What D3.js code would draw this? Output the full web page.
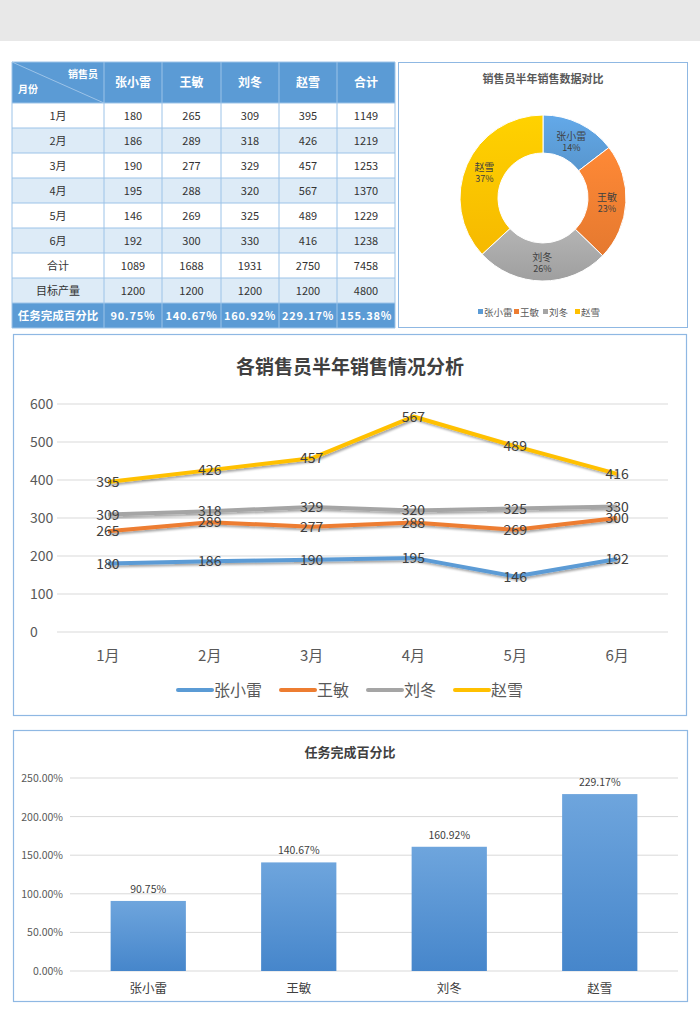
<!DOCTYPE html>
<html><head><meta charset="utf-8">
<script src="https://cdn.jsdelivr.net/npm/d3@7"></script>
<style>
body{margin:0;background:#fff;}
svg{display:block;font-family:"Noto Sans CJK SC","Microsoft YaHei",sans-serif;}
</style></head>
<body>
<svg id="c" width="700" height="1030"></svg>
<script>
const months = ['1月','2月','3月','4月','5月','6月'];
const people = ['张小雷','王敏','刘冬','赵雪'];
const zhang = [180,186,190,195,146,192];
const wang  = [265,289,277,288,269,300];
const liu   = [309,318,329,320,325,330];
const zhao  = [395,426,457,567,489,416];
const rowTotals = [1149,1219,1253,1370,1229,1238];
const colTotals = [1089,1688,1931,2750,7458];
const targets = [1200,1200,1200,1200,4800];
const pctLabels = ['90.75%','140.67%','160.92%','229.17%','155.38%'];
const pctValues = [90.75,140.67,160.92,229.17];
const donutPct = ['14%','23%','26%','37%'];
const colors = ['#5b9bd5','#ed7d31','#a5a5a5','#ffc000'];
const lineTicks = [0,100,200,300,400,500,600];
const barTicks = [0,50,100,150,200,250];

const svg = d3.select('#c');
const defs = svg.append('defs');

// top grey band
svg.append('rect').attr('x',0).attr('y',0).attr('width',700).attr('height',41).attr('fill','#e8e8e8');

// ---------- TABLE ----------
const colX = [12,104,162,221,279,337,395];
const headH = 41, rowH = 25, tTop = 62;
const series = [zhang,wang,liu,zhao];
const rows = months.map((m,i)=>[m, ...series.map(s=>s[i]), rowTotals[i]]);
rows.push(['合计', ...colTotals]);
rows.push(['目标产量', ...targets]);
const tbl = svg.append('g');
tbl.append('rect').attr('x',colX[0]).attr('y',tTop).attr('width',colX[6]-colX[0]).attr('height',headH).attr('fill','#5b9bd5');
['张小雷','王敏','刘冬','赵雪','合计'].forEach((h,i)=>{
  tbl.append('text').attr('x',(colX[i+1]+colX[i+2])/2).attr('y',tTop+headH/2+4.5)
    .attr('text-anchor','middle').attr('fill','#fff').attr('font-size',12).attr('font-weight','bold').text(h);
});
tbl.append('line').attr('x1',colX[0]).attr('y1',tTop).attr('x2',colX[1]).attr('y2',tTop+headH).attr('stroke','#9cc3e8').attr('stroke-width',1);
tbl.append('text').attr('x',98).attr('y',tTop+16).attr('text-anchor','end').attr('fill','#fff').attr('font-size',10).attr('font-weight','bold').text('销售员');
tbl.append('text').attr('x',18).attr('y',tTop+31).attr('fill','#fff').attr('font-size',10).attr('font-weight','bold').text('月份');
rows.forEach((r,ri)=>{
  const y = tTop+headH+ri*rowH;
  tbl.append('rect').attr('x',colX[0]).attr('y',y).attr('width',colX[6]-colX[0]).attr('height',rowH)
    .attr('fill', ri%2===1 ? '#ddebf7' : '#ffffff');
  r.forEach((v,ci)=>{
    tbl.append('text').attr('x',(colX[ci]+colX[ci+1])/2).attr('y',y+rowH/2+4)
      .attr('text-anchor','middle').attr('fill','#333').attr('font-size',11).text(v);
  });
});
const lastY = tTop+headH+rows.length*rowH;
tbl.append('rect').attr('x',colX[0]).attr('y',lastY).attr('width',colX[6]-colX[0]).attr('height',rowH).attr('fill','#5b9bd5');
tbl.append('text').attr('x',(colX[0]+colX[1])/2).attr('y',lastY+rowH/2+4.5).attr('text-anchor','middle')
  .attr('fill','#fff').attr('font-size',11.5).attr('font-weight','bold').text('任务完成百分比');
pctLabels.forEach((p,i)=>{
  tbl.append('text').attr('x',(colX[i+1]+colX[i+2])/2).attr('y',lastY+rowH/2+4.5).attr('text-anchor','middle')
    .attr('fill','#fff').attr('font-size',11).attr('font-weight','bold').attr('letter-spacing',0.8).text(p);
});
const tBottom = lastY+rowH;
colX.forEach(x=>tbl.append('line').attr('x1',x).attr('x2',x).attr('y1',tTop).attr('y2',tBottom).attr('stroke','#9cc3e8').attr('stroke-width',1));
for(let i=0;i<=rows.length+1;i++){
  const y = i===0?tTop:tTop+headH+(i-1)*rowH;
  tbl.append('line').attr('x1',colX[0]).attr('x2',colX[6]).attr('y1',y).attr('y2',y).attr('stroke','#9cc3e8').attr('stroke-width',1);
}
tbl.append('line').attr('x1',colX[0]).attr('x2',colX[6]).attr('y1',tBottom).attr('y2',tBottom).attr('stroke','#9cc3e8');

// ---------- DONUT ----------
svg.append('rect').attr('x',398.5).attr('y',62.5).attr('width',289).attr('height',265).attr('fill','#fff').attr('stroke','#8fb8e3').attr('stroke-width',1);
svg.append('text').attr('x',543).attr('y',83).attr('text-anchor','middle').attr('fill','#595959').attr('font-size',11).attr('font-weight','bold').text('销售员半年销售数据对比');
const pieData = d3.pie().sort(null)(people.map((p,i)=>colTotals[i]));
const arc = d3.arc().innerRadius(45).outerRadius(83);
const dg = svg.append('g').attr('transform','translate(543,198)');
people.forEach((p,i)=>{
  const g = defs.append('linearGradient').attr('id','pg'+i).attr('x1',0).attr('y1',0).attr('x2',0).attr('y2',1);
  g.append('stop').attr('offset','0%').attr('stop-color',d3.color(colors[i]).brighter(0.25));
  g.append('stop').attr('offset','100%').attr('stop-color',d3.color(colors[i]).darker(0.1));
});
dg.selectAll('path').data(pieData).enter().append('path').attr('d',arc)
  .attr('fill',(d,i)=>'url(#pg'+i+')').attr('stroke','#fff').attr('stroke-width',1);
pieData.forEach((d,i)=>{
  const [cx,cy] = arc.centroid(d);
  dg.append('text').attr('x',cx).attr('y',cy-1).attr('text-anchor','middle').attr('fill','#404040').attr('font-size',10).text(people[i]);
  dg.append('text').attr('x',cx).attr('y',cy+10).attr('text-anchor','middle').attr('fill','#404040').attr('font-size',9).text(donutPct[i]);
});
const dlx = [478,514,543,575];
people.forEach((p,i)=>{
  svg.append('rect').attr('x',dlx[i]).attr('y',309).attr('width',5).attr('height',5).attr('fill',colors[i]);
  svg.append('text').attr('x',dlx[i]+6).attr('y',316).attr('fill','#595959').attr('font-size',9.5).text(p);
});

// ---------- LINE CHART ----------
svg.append('rect').attr('x',13.5).attr('y',334.5).attr('width',673).attr('height',381).attr('fill','#fff').attr('stroke','#8fb8e3').attr('stroke-width',1.2);
svg.append('text').attr('x',350).attr('y',374).attr('text-anchor','middle').attr('fill','#404040').attr('font-size',19).attr('font-weight','bold').text('各销售员半年销售情况分析');
const ly = d3.scaleLinear().domain([0,600]).range([632,404]);
const lx = d3.scalePoint().domain(months).range([57,668]).padding(0.5);
const lg = svg.append('g');
lineTicks.forEach(t=>{
  lg.append('line').attr('x1',57).attr('x2',668).attr('y1',ly(t)).attr('y2',ly(t)).attr('stroke','#d9d9d9').attr('stroke-width',1);
  lg.append('text').attr('x',30).attr('y',ly(t)+5).attr('fill','#595959').attr('font-size',14).text(t);
});
months.forEach(m=>lg.append('text').attr('x',lx(m)).attr('y',661).attr('text-anchor','middle').attr('fill','#595959').attr('font-size',15).text(m));
const shadow = defs.append('filter').attr('id','sh').attr('x','-10%').attr('y','-50%').attr('width','120%').attr('height','200%');
shadow.append('feDropShadow').attr('dx',1.5).attr('dy',2).attr('stdDeviation',1.2).attr('flood-color','#000').attr('flood-opacity',0.35);
const lineGen = d3.line().x((d,i)=>lx(months[i])).y(d=>ly(d));
series.forEach((s,i)=>{
  lg.append('path').attr('d',lineGen(s)).attr('fill','none').attr('stroke',colors[i]).attr('stroke-width',4)
    .attr('stroke-linejoin','round').attr('filter','url(#sh)');
});
series.forEach((s,i)=>{
  s.forEach((v,j)=>{
    lg.append('text').attr('x',lx(months[j])).attr('y',ly(v)+5).attr('text-anchor','middle').attr('fill','#404040').attr('font-size',14).text(v);
  });
});
const llx = [178,281,368,455];
people.forEach((p,i)=>{
  lg.append('line').attr('x1',llx[i]).attr('x2',llx[i]+34).attr('y1',690).attr('y2',690).attr('stroke',colors[i]).attr('stroke-width',4).attr('stroke-linecap','round');
  lg.append('text').attr('x',llx[i]+36).attr('y',696).attr('fill','#595959').attr('font-size',16).text(p);
});

// ---------- BAR CHART ----------
svg.append('rect').attr('x',13.5).attr('y',730.5).attr('width',674).attr('height',271).attr('fill','#fff').attr('stroke','#8fb8e3').attr('stroke-width',1.2);
svg.append('text').attr('x',350).attr('y',757).attr('text-anchor','middle').attr('fill','#404040').attr('font-size',13).attr('font-weight','bold').text('任务完成百分比');
const by = d3.scaleLinear().domain([0,250]).range([971,778]);
const bx = d3.scaleBand().domain(people).range([73,675]).paddingInner(0.5).paddingOuter(0.25);
const bg = svg.append('g');
barTicks.forEach(t=>{
  bg.append('line').attr('x1',70).attr('x2',678).attr('y1',by(t)).attr('y2',by(t)).attr('stroke','#d9d9d9').attr('stroke-width',1);
  bg.append('text').attr('x',63).attr('y',by(t)+4).attr('text-anchor','end').attr('fill','#595959').attr('font-size',10.5).text(d3.format('.2f')(t)+'%');
});
const bgr = defs.append('linearGradient').attr('id','bgr').attr('x1',0).attr('y1',0).attr('x2',0).attr('y2',1);
bgr.append('stop').attr('offset','0%').attr('stop-color','#6ea5dd');
bgr.append('stop').attr('offset','100%').attr('stop-color','#4686cb');
people.forEach((p,i)=>{
  bg.append('rect').attr('x',bx(p)).attr('y',by(pctValues[i])).attr('width',bx.bandwidth()).attr('height',by(0)-by(pctValues[i]))
    .attr('fill','url(#bgr)');
  bg.append('text').attr('x',bx(p)+bx.bandwidth()/2).attr('y',by(pctValues[i])-8).attr('text-anchor','middle').attr('fill','#404040').attr('font-size',10.5).text(pctLabels[i]);
  bg.append('text').attr('x',bx(p)+bx.bandwidth()/2).attr('y',993).attr('text-anchor','middle').attr('fill','#404040').attr('font-size',12.5).text(p);
});
</script>
</body></html>
